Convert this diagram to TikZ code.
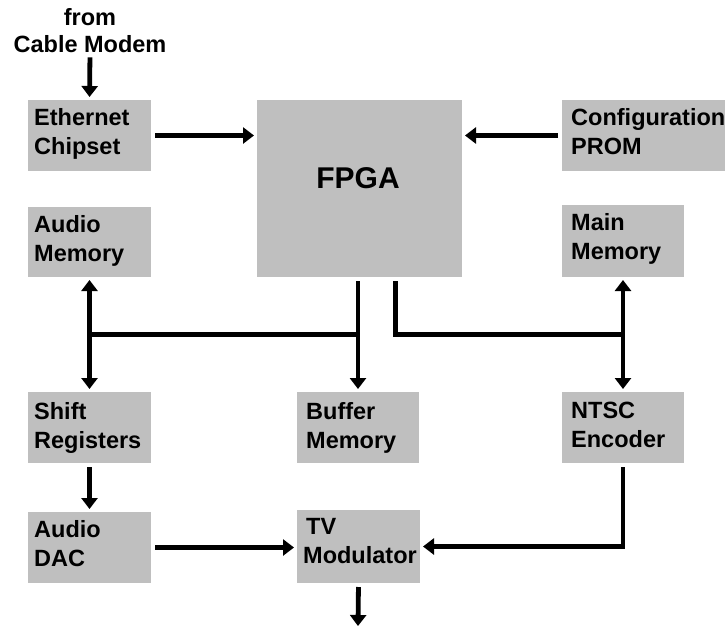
\documentclass[tikz,border=0pt]{standalone}
\usepackage{fontspec}
\setmainfont{Liberation Sans}
\usetikzlibrary{arrows.meta,calc}
\definecolor{boxgray}{RGB}{191,191,191}
\begin{document}
\begin{tikzpicture}[x=1pt,y=-1pt,
  block/.style={fill=boxgray, draw=none, inner sep=0pt, outer sep=0pt, anchor=north west},
  lbl/.style={anchor=north west, inner sep=0pt, align=left,
    font=\fontsize{23.5}{29}\selectfont\bfseries},
  tip/.tip={Triangle[width=16pt,length=11pt]},
  link/.style={line width=4.8pt, -tip, shorten >=3pt, shorten <=4pt},
  both/.style={line width=4.8pt, tip-tip, shorten >=3pt, shorten <=3pt},
  wire/.style={line width=4.8pt},
]
\clip (0,0) rectangle (725,627);
\fill[white] (0,0) rectangle (725,627);

% blocks
\node[block, minimum width=123pt, minimum height=71pt] (eth)   at (28,100) {};
\node[block, minimum width=123pt, minimum height=70pt] (amem)  at (28,207) {};
\node[block, minimum width=205pt, minimum height=177pt] (fpga) at (257,100) {};
\node[block, minimum width=170pt, minimum height=71pt] (prom)  at (562,100) {};
\node[block, minimum width=122pt, minimum height=72pt] (mmem)  at (562,205) {};
\node[block, minimum width=123pt, minimum height=71pt] (shift) at (28,392) {};
\node[block, minimum width=122pt, minimum height=71pt] (buf)   at (297,392) {};
\node[block, minimum width=122pt, minimum height=71pt] (ntsc)  at (562,392) {};
\node[block, minimum width=123pt, minimum height=71pt] (dac)   at (28,512) {};
\node[block, minimum width=123pt, minimum height=73pt] (tv)    at (297,510) {};

% labels
\node[lbl] (ethL)   at ($(eth.north west)+(6,8)$)   {Ethernet\\Chipset};
\node[lbl] (amemL)  at ($(amem.north west)+(6,8)$)  {Audio\\Memory};
\node[lbl] (promL)  at ($(prom.north west)+(9,8)$)  {Configuration\\PROM};
\node[lbl] (mmemL)  at ($(mmem.north west)+(9,8)$)  {Main\\Memory};
\node[lbl] (shiftL) at ($(shift.north west)+(6,10)$) {Shift\\Registers};
\node[lbl] (bufL)   at ($(buf.north west)+(9,10)$)  {Buffer\\Memory};
\node[lbl] (ntscL)  at ($(ntsc.north west)+(9,10)$) {NTSC\\Encoder};
\node[lbl] (dacL)   at ($(dac.north west)+(6,8)$)   {Audio\\DAC};
\node[lbl] (tvL)    at ($(tv.north west)+(6,8)$)    {\hspace*{3pt}TV\\Modulator};
\node[inner sep=0pt, font=\fontsize{30}{36}\selectfont\bfseries] (fpgaL) at (358,178) {FPGA};
\node[inner sep=0pt, align=center, font=\fontsize{23.5}{27}\selectfont\bfseries] (cable) at (90,31) {from\\Cable Modem};

% junction points of the two buses
\coordinate (busL) at ($(amem.south)!0.5!(shift.north)$);
\coordinate (busR) at ($(mmem.south)!0.5!(ntsc.north)$);
\coordinate (tvout) at (358,626);

% connectors
\draw[link] (cable.south) -- (eth.north);
\draw[link] (eth.east) -- (eth.east -| fpga.west);
\draw[link] (prom.west) -- (prom.west -| fpga.east);
\draw[both] (amem.south) -- (shift.north);
\draw[both] (mmem.south) -- (ntsc.north);
\draw[wire] (busL) -- (busL -| buf.north);
\draw[link] (buf.north |- fpga.south) -- (buf.north);
\draw[wire, shorten <=4pt] ([xshift=36pt]fpga.south) |- (busR);
\draw[link] (shift.south) -- (dac.north);
\draw[link] (dac.east) -- (dac.east -| tv.west);
\draw[link] (ntsc.south) |- (tv.east);
\draw[link, shorten >=0pt] (tv.south) -- (tvout);
\end{tikzpicture}
\end{document}
